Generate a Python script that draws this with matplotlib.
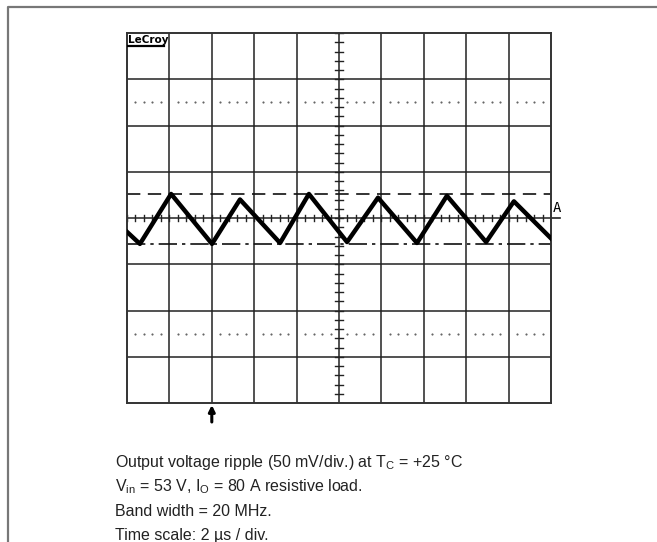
import numpy as np
import matplotlib
matplotlib.use('Agg')
from matplotlib import pyplot as plt
from matplotlib.lines import Line2D

plt.rcParams['font.family'] = ['Liberation Sans', 'DejaVu Sans']
plt.rcParams['mathtext.fontset'] = 'custom'
plt.rcParams['mathtext.rm'] = 'Liberation Sans'
plt.rcParams['mathtext.it'] = 'Liberation Sans'

# === Data (time in us, 2 us/div; ripple in mV, 50 mV/div) ===
t_trace = [-4.0, -3.39, -1.92, 0.01, 1.33, 3.22, 4.58, 6.38, 7.84, 9.68,
           11.09, 12.94, 14.25, 16.0]
v_trace = [-15, -28, 26, -28, 20, -27, 26, -26, 22, -27, 24, -26, 18, -22]
cursor_hi = 26     # mV, dashed cursor
cursor_lo = -28    # mV, dash-dot cursor
trigger_t = 0.0

t_min, t_max = -4.0, 16.0
v_min, v_max = -200.0, 200.0
div_t, div_v = 2.0, 50.0

caption = [
    r'Output voltage ripple (50 mV/div.) at T$_\mathregular{C}$ = +25 °C',
    r'V$_\mathregular{in}$ = 53 V, I$_\mathregular{O}$ = 80 A resistive load.',
    'Band width = 20 MHz.',
    'Time scale: 2 µs / div.',
]

# === Figure ===
W, H = 657, 542
fig = plt.figure(figsize=(W/100, H/100), dpi=100)
ax = fig.add_axes([127/W, 1-403/H, (551-127)/W, (403-33)/H])
ax.set_xlim(t_min, t_max)
ax.set_ylim(v_min, v_max)
ax.set_xticks([])
ax.set_yticks([])
for s in ax.spines.values():
    s.set_color('#333333')
    s.set_linewidth(1.4)

gcol = '#222222'
t_c = (t_min + t_max) / 2
for t in np.arange(t_min + div_t, t_max, div_t):
    ax.axvline(t, color=gcol, lw=1.1, zorder=1)
for v in np.arange(v_min + div_v, v_max, div_v):
    ax.axhline(v, color=gcol, lw=1.1, zorder=1)

# minor ticks on centre axes
dt_px = div_t / 42.4
dv_px = div_v / 46.25
for v in np.arange(v_min, v_max + 1e-6, div_v / 5):
    ax.plot([t_c - 4*dt_px, t_c + 4*dt_px], [v, v], color=gcol, lw=1.0, zorder=1)
for t in np.arange(t_min, t_max + 1e-6, div_t / 5):
    ax.plot([t, t], [-3.3*dv_px, 3.3*dv_px], color=gcol, lw=1.0, zorder=1)

# dotted graticule rows
dot_t = [t for t in np.arange(t_min, t_max + 1e-6, div_t / 5)
         if abs((t - t_min) / div_t - round((t - t_min) / div_t)) > 1e-6]
for v in (2.5*div_v, -2.5*div_v):
    ax.plot(dot_t, [v]*len(dot_t), ls='none', marker='s', ms=0.55,
            color='#666666', zorder=1)

# cursors
ax.axhline(cursor_hi, color='#111111', lw=1.2, dashes=(8, 4.5), zorder=2)
ax.axhline(cursor_lo, color='#111111', lw=1.2, dashes=(11, 3, 2, 3), zorder=2)

# trace
ax.plot(t_trace, v_trace, color='black', lw=3.2, solid_joinstyle='round', zorder=3)

# LeCroy label
ax.text(t_min + 0.05, v_max - 2, 'LeCroy', fontsize=7.5, fontweight='bold',
        family='DejaVu Sans', va='top', ha='left', zorder=4)
ax.plot([t_min + 0.05, t_min + 1.75], [v_max - 14, v_max - 14], color='black',
        lw=1.6, zorder=4)

# channel marker "A"
ax.text(t_max + 0.08, 3, 'A', fontsize=10, family='DejaVu Sans Mono',
        va='bottom', ha='left', clip_on=False)
ax.plot([t_max, t_max + 0.42], [0, 0], color=gcol, lw=1.2, clip_on=False)

# trigger arrow
ax.annotate('', xy=(trigger_t, v_min - 2*dv_px), xytext=(trigger_t, v_min - 19*dv_px),
            arrowprops=dict(arrowstyle='-|>', lw=2.2, color='black',
                            mutation_scale=9, shrinkA=0, shrinkB=0),
            annotation_clip=False)

# outer frame
fig.add_artist(Line2D([8/W, 8/W, 1.0], [0.0, 1-7/H, 1-7/H],
                      transform=fig.transFigure, color='#777777', lw=1.6))

# caption
for i, line in enumerate(caption):
    fig.text(115/W, 1 - (467 + 24.3*i)/H, line, fontsize=11.5, va='baseline',
             ha='left', color='#222222')

fig.savefig('out.png', dpi=100)
